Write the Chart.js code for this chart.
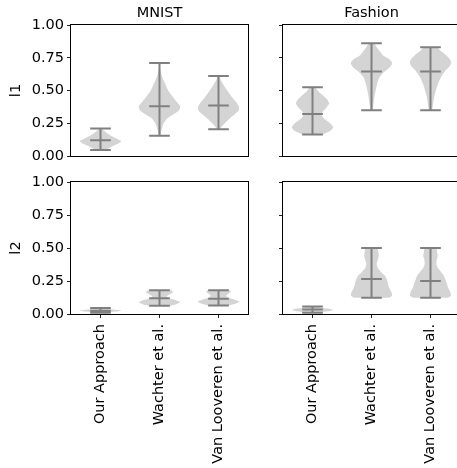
<!DOCTYPE html>
<html>
<head>
<meta charset="utf-8">
<script src="https://cdn.jsdelivr.net/npm/chart.js@4"></script>
<style>
  html, body { margin: 0; padding: 0; background: #fff; }
  #wrap { position: relative; width: 457px; height: 468px; overflow: hidden; }
  #wrap canvas { position: absolute; left: 0; top: 0; }
</style>
</head>
<body>
<div id="wrap">
  <canvas id="mnistL1" width="480" height="468"></canvas>
  <canvas id="fashionL1" width="480" height="468"></canvas>
  <canvas id="mnistL2" width="480" height="468"></canvas>
  <canvas id="fashionL2" width="480" height="468"></canvas>
</div>
<script>
const methods = ['Our Approach', 'Wachter et al.', 'Van Looveren et al.'];
const yTicks = [0, 0.25, 0.5, 0.75, 1];

// MNIST, l1
const mnistL1Min = [0.045, 0.155, 0.205];
const mnistL1Max = [0.21, 0.71, 0.61];
const mnistL1Median = [0.12, 0.38, 0.385];
const mnistL1Density = [
  [[0.045, 0.15], [0.06, 0.4], [0.08, 0.65], [0.1, 0.9], [0.115, 1.0], [0.13, 0.8], [0.15, 0.55], [0.17, 0.35], [0.19, 0.18], [0.21, 0.05]],
  [[0.155, 0.03], [0.2, 0.1], [0.25, 0.2], [0.29, 0.4], [0.32, 0.7], [0.35, 0.95], [0.38, 1.0], [0.41, 0.85], [0.45, 0.65], [0.5, 0.42], [0.55, 0.28], [0.6, 0.14], [0.64, 0.06], [0.68, 0.02], [0.71, 0.01]],
  [[0.205, 0.06], [0.24, 0.25], [0.28, 0.5], [0.32, 0.8], [0.35, 0.98], [0.37, 1.0], [0.4, 0.9], [0.45, 0.65], [0.5, 0.42], [0.55, 0.22], [0.59, 0.08], [0.61, 0.03]]
];

// Fashion, l1
const fashionL1Min = [0.165, 0.35, 0.35];
const fashionL1Max = [0.525, 0.86, 0.83];
const fashionL1Median = [0.32, 0.645, 0.645];
const fashionL1Density = [
  [[0.165, 0.5], [0.19, 0.85], [0.22, 1.0], [0.25, 0.85], [0.28, 0.6], [0.31, 0.45], [0.34, 0.5], [0.37, 0.68], [0.4, 0.8], [0.43, 0.72], [0.46, 0.52], [0.49, 0.3], [0.525, 0.12]],
  [[0.35, 0.05], [0.4, 0.1], [0.45, 0.14], [0.5, 0.2], [0.55, 0.27], [0.6, 0.38], [0.64, 0.6], [0.68, 0.9], [0.71, 1.0], [0.74, 0.85], [0.77, 0.55], [0.8, 0.4], [0.83, 0.25], [0.86, 0.12]],
  [[0.35, 0.08], [0.4, 0.13], [0.45, 0.18], [0.5, 0.26], [0.55, 0.36], [0.6, 0.5], [0.65, 0.72], [0.69, 0.95], [0.72, 1.0], [0.75, 0.88], [0.78, 0.68], [0.81, 0.45], [0.83, 0.3]]
];

// MNIST, l2
const mnistL2Min = [0.01, 0.062, 0.065];
const mnistL2Max = [0.045, 0.18, 0.18];
const mnistL2Median = [0.025, 0.12, 0.115];
const mnistL2Density = [
  [[0.01, 0.2], [0.018, 0.7], [0.025, 1.0], [0.032, 0.7], [0.04, 0.3], [0.045, 0.1]],
  [[0.062, 0.55], [0.075, 0.85], [0.09, 1.0], [0.105, 0.8], [0.12, 0.45], [0.135, 0.35], [0.15, 0.5], [0.165, 0.65], [0.18, 0.55]],
  [[0.065, 0.5], [0.08, 0.85], [0.095, 1.0], [0.11, 0.75], [0.125, 0.45], [0.14, 0.38], [0.155, 0.5], [0.17, 0.6], [0.18, 0.5]]
];

// Fashion, l2
const fashionL2Min = [0.01, 0.123, 0.123];
const fashionL2Max = [0.057, 0.5, 0.5];
const fashionL2Median = [0.034, 0.265, 0.25];
const fashionL2Density = [
  [[0.01, 0.25], [0.02, 0.75], [0.03, 1.0], [0.04, 0.8], [0.05, 0.4], [0.057, 0.2]],
  [[0.123, 0.85], [0.14, 1.0], [0.17, 0.95], [0.2, 0.85], [0.23, 0.8], [0.26, 0.75], [0.29, 0.65], [0.32, 0.45], [0.35, 0.3], [0.38, 0.25], [0.41, 0.3], [0.44, 0.35], [0.47, 0.33], [0.5, 0.28]],
  [[0.123, 0.85], [0.14, 1.0], [0.17, 0.95], [0.2, 0.85], [0.23, 0.8], [0.26, 0.72], [0.29, 0.65], [0.32, 0.5], [0.35, 0.35], [0.38, 0.28], [0.41, 0.3], [0.44, 0.35], [0.47, 0.32], [0.5, 0.28]]
];

const font = { family: 'DejaVu Sans', size: 14.5, weight: 'normal' };
const fillColor = 'rgba(128, 128, 128, 0.34)';
const lineColor = '#808080';
const halfWidth = 0.35;
const capHalf = 0.175;

// draws the four spines around the plot area
const framePlugin = {
  id: 'frame',
  afterDatasetsDraw(chart) {
    const { ctx, chartArea: a } = chart;
    ctx.save();
    ctx.strokeStyle = '#000';
    ctx.lineWidth = 1;
    ctx.strokeRect(Math.round(a.left) - 0.5, Math.round(a.top) - 0.5,
      Math.round(a.right - a.left) + 1, Math.round(a.bottom - a.top) + 1);
    ctx.restore();
  }
};

function makePanel(id, opts) {
  const { mins, maxs, meds, dens, isLeft, isTop, title, yLabel } = opts;
  const datasets = [];
  methods.forEach((m, i) => {
    const left = dens[i].map(([v, w]) => ({ x: i - w * halfWidth, y: v }));
    const right = dens[i].slice().reverse().map(([v, w]) => ({ x: i + w * halfWidth, y: v }));
    datasets.push({
      label: m,
      data: left.concat(right),
      showLine: true,
      fill: 'shape',
      backgroundColor: fillColor,
      borderColor: 'rgba(0,0,0,0)',
      borderWidth: 0,
      pointRadius: 0,
      tension: 0.25,
      order: 2
    });
    const gap = { x: null, y: null };
    datasets.push({
      label: m + ' extrema',
      data: [
        { x: i, y: mins[i] }, { x: i, y: maxs[i] }, gap,
        { x: i - capHalf, y: mins[i] }, { x: i + capHalf, y: mins[i] }, gap,
        { x: i - capHalf, y: maxs[i] }, { x: i + capHalf, y: maxs[i] }, gap,
        { x: i - capHalf, y: meds[i] }, { x: i + capHalf, y: meds[i] }
      ],
      showLine: true,
      fill: false,
      borderColor: lineColor,
      borderWidth: 2,
      pointRadius: 0,
      order: 1
    });
  });

  const padding = {
    left: isLeft ? 0 : 212,
    right: isLeft ? 232 : 20,
    top: isTop ? 0 : 182,
    bottom: isTop ? 312 : 0
  };

  return new Chart(document.getElementById(id), {
    type: 'scatter',
    data: { datasets },
    options: {
      responsive: false,
      animation: false,
      layout: { padding },
      plugins: {
        legend: { display: false },
        tooltip: { enabled: false },
        title: {
          display: isTop,
          text: title,
          color: '#000',
          font,
          fullSize: false,
          padding: { top: 5, bottom: 2.6 }
        }
      },
      scales: {
        x: {
          type: 'linear',
          min: -0.5,
          max: 2.5,
          afterBuildTicks: s => { s.ticks = methods.map((m, i) => ({ value: i })); },
          afterFit: s => { s.height = isTop ? 0 : 154; },
          border: { display: false },
          grid: { drawOnChartArea: false, drawTicks: !isTop, tickLength: 4, color: '#222' },
          ticks: {
            display: !isTop,
            autoSkip: false,
            minRotation: 90,
            maxRotation: 90,
            padding: 6,
            color: '#000',
            font,
            callback: v => methods[v]
          }
        },
        y: {
          min: 0,
          max: 1,
          afterBuildTicks: s => { s.ticks = yTicks.map(v => ({ value: v })); },
          afterFit: s => { s.width = 71; },
          border: { display: false },
          grid: { drawOnChartArea: false, tickLength: 4, color: '#222' },
          ticks: {
            display: isLeft,
            padding: 3,
            color: '#000',
            font,
            callback: v => v.toFixed(2)
          },
          title: {
            display: isLeft,
            text: yLabel,
            color: '#000',
            font,
            padding: { top: 8, bottom: 0 }
          }
        }
      }
    },
    plugins: [framePlugin]
  });
}

makePanel('mnistL1', { mins: mnistL1Min, maxs: mnistL1Max, meds: mnistL1Median, dens: mnistL1Density, isLeft: true, isTop: true, title: 'MNIST', yLabel: 'l1' });
makePanel('fashionL1', { mins: fashionL1Min, maxs: fashionL1Max, meds: fashionL1Median, dens: fashionL1Density, isLeft: false, isTop: true, title: 'Fashion', yLabel: '' });
makePanel('mnistL2', { mins: mnistL2Min, maxs: mnistL2Max, meds: mnistL2Median, dens: mnistL2Density, isLeft: true, isTop: false, title: '', yLabel: 'l2' });
makePanel('fashionL2', { mins: fashionL2Min, maxs: fashionL2Max, meds: fashionL2Median, dens: fashionL2Density, isLeft: false, isTop: false, title: '', yLabel: '' });
</script>
</body>
</html>
